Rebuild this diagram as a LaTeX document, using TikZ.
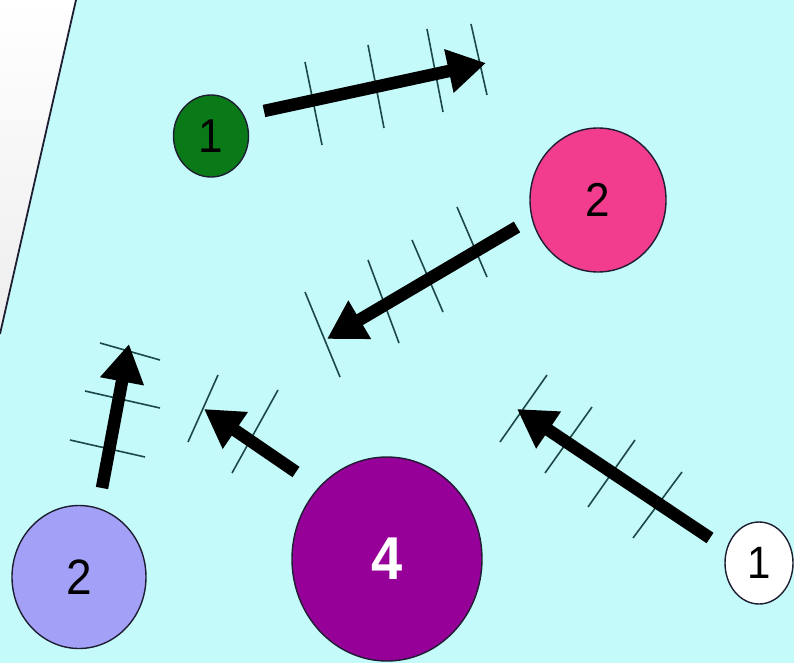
\documentclass[tikz,border=0pt]{standalone}
\usepackage{fontspec}
\usepackage{graphicx}
\setmainfont{Liberation Sans}
\usetikzlibrary{arrows.meta,shapes.geometric}
\definecolor{bgcyan}{RGB}{197,250,250}
\definecolor{cgreen}{RGB}{10,122,24}
\definecolor{cpink}{RGB}{242,60,142}
\definecolor{clav}{RGB}{163,160,248}
\definecolor{cpurple}{RGB}{150,0,152}
\definecolor{tickcol}{RGB}{30,72,72}
\definecolor{edgecol}{RGB}{30,30,50}
\tikzset{
  disc/.style={ellipse, draw=edgecol, line width=1.4pt, inner sep=0pt},
  bigarrow/.style={line width=12.5pt, -{Triangle[length=38pt,width=42pt]}},
  tickline/.style={draw=tickcol, line width=1.6pt},
}
\begin{document}
\begin{tikzpicture}[x=1pt,y=-1pt]
\useasboundingbox (0,0) rectangle (794,663);
\clip (0,0) rectangle (794,663);
% background
\fill[bgcyan] (0,0) rectangle (794,663);
\shade[top color=white, bottom color=gray!14] (0,0) -- (76,0) -- (0,334) -- cycle;
\coordinate (b1) at (76,0);
\coordinate (b2) at (0,334);
\draw[edgecol, line width=1.8pt] (b1) -- (b2);
% circles
\node[disc, fill=cgreen, minimum width=75pt, minimum height=82pt] (g1) at (211,136) {\scalebox{1}[1.08]{\fontsize{44}{48}\selectfont 1}};
\node[disc, fill=cpink, minimum width=136pt, minimum height=144pt] (p2) at (598,200) {\scalebox{1}[1.08]{\fontsize{44}{48}\selectfont 2}};
\node[disc, fill=clav, minimum width=134pt, minimum height=143pt] (l2) at (79,577) {\scalebox{1}[1.08]{\fontsize{46}{48}\selectfont 2}};
\node[disc, fill=cpurple, minimum width=190pt, minimum height=204pt] (u4) at (387,559) {\scalebox{1}[1.08]{\color{white}\fontsize{56}{60}\selectfont\bfseries 4}};
\node[disc, fill=white, minimum width=68pt, minimum height=82pt] (w1) at (759,563) {\scalebox{1}[1.08]{\fontsize{42}{48}\selectfont 1}};
% arrow end points
\coordinate (ga) at (264,111); \coordinate (gb) at (486,63);
\coordinate (pa) at (517,227); \coordinate (pb) at (327,339);
\coordinate (la) at (102,488); \coordinate (lb) at (129,344);
\coordinate (ua) at (296,472); \coordinate (ub) at (204,409);
\coordinate (wa) at (710,538); \coordinate (wb) at (517,409);
% ticks (green arrow)
\coordinate (t1a) at (305,62);  \coordinate (t1b) at (322,145);
\coordinate (t2a) at (368,45);  \coordinate (t2b) at (384,128);
\coordinate (t3a) at (427,29);  \coordinate (t3b) at (443,112);
\coordinate (t4a) at (471,24);  \coordinate (t4b) at (487,95);
% ticks (pink arrow)
\coordinate (t5a) at (305,292); \coordinate (t5b) at (340,377);
\coordinate (t6a) at (368,260); \coordinate (t6b) at (399,343);
\coordinate (t7a) at (412,240); \coordinate (t7b) at (443,312);
\coordinate (t8a) at (457,207); \coordinate (t8b) at (487,277);
% ticks (lavender arrow)
\coordinate (t9a) at (100,343);  \coordinate (t9b) at (160,360);
\coordinate (t10a) at (85,391);  \coordinate (t10b) at (160,408);
\coordinate (t11a) at (70,440);  \coordinate (t11b) at (145,457);
% ticks (purple arrow)
\coordinate (t12a) at (188,442); \coordinate (t12b) at (218,375);
\coordinate (t13a) at (232,473); \coordinate (t13b) at (278,390);
% ticks (white arrow)
\coordinate (t14a) at (500,442); \coordinate (t14b) at (547,375);
\coordinate (t15a) at (545,473); \coordinate (t15b) at (592,407);
\coordinate (t16a) at (588,507); \coordinate (t16b) at (635,440);
\coordinate (t17a) at (633,538); \coordinate (t17b) at (682,472);
\foreach \i in {1,...,17} {\draw[tickline] (t\i a) -- (t\i b);}
% arrows
\draw[bigarrow] (ga) -- (gb);
\draw[bigarrow] (pa) -- (pb);
\draw[bigarrow] (la) -- (lb);
\draw[bigarrow] (ua) -- (ub);
\draw[bigarrow] (wa) -- (wb);
\end{tikzpicture}
\end{document}
